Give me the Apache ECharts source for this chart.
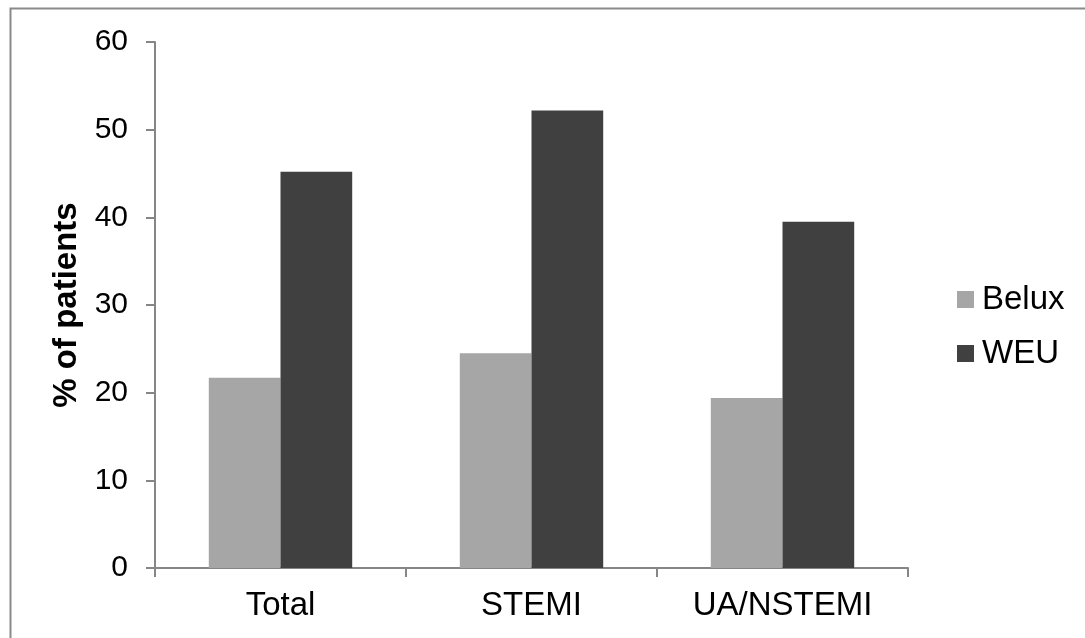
<!DOCTYPE html>
<html>
<head>
<meta charset="utf-8">
<script src="https://cdn.jsdelivr.net/npm/echarts@6/dist/echarts.min.js"></script>
<style>
  html, body { margin: 0; padding: 0; background: #fff; }
  #chart { width: 1085px; height: 638px; }
</style>
</head>
<body>
<div id="chart"></div>
<script>
// Share of patients by presentation, Belux vs Western Europe
const categories = ['Total', 'STEMI', 'UA/NSTEMI'];
const beluxValues = [21.7, 24.5, 19.4];
const weuValues = [45.2, 52.2, 39.5];
const yTicks = { min: 0, max: 60, interval: 10 };

const FONT = '"Liberation Sans", Arial, sans-serif';
const AXIS_GREY = '#868686';

const chart = echarts.init(document.getElementById('chart'), null, { renderer: 'canvas' });

chart.setOption({
  backgroundColor: '#ffffff',
  animation: false,
  textStyle: { fontFamily: FONT },
  graphic: [{
    type: 'rect',
    shape: { x: 10.5, y: 8.5, width: 1200, height: 800 },
    style: { fill: 'none', stroke: '#8a8a8a', lineWidth: 2 },
    silent: true
  }],
  grid: { left: 155, right: 177, top: 42, bottom: 70, containLabel: false },
  legend: {
    orient: 'vertical',
    left: 952,
    top: 278,
    itemWidth: 17,
    itemHeight: 17,
    itemGap: 21,
    icon: 'rect',
    textStyle: { fontFamily: FONT, fontSize: 33, color: '#000', lineHeight: 33, padding: [0, 0, 0, 3] },
    data: ['Belux', 'WEU']
  },
  xAxis: {
    type: 'category',
    data: categories,
    axisLine: { lineStyle: { color: AXIS_GREY, width: 2 } },
    axisTick: { show: true, length: 9, alignWithLabel: false, lineStyle: { color: AXIS_GREY, width: 2 } },
    axisLabel: { fontFamily: FONT, fontSize: 33, color: '#000', margin: 21 },
    splitLine: { show: false }
  },
  yAxis: {
    type: 'value',
    min: yTicks.min,
    max: yTicks.max,
    interval: yTicks.interval,
    name: '% of patients',
    nameLocation: 'middle',
    nameRotate: 90,
    nameGap: 65,
    nameTextStyle: { fontFamily: FONT, fontSize: 33, fontWeight: 'bold', color: '#000' },
    axisLine: { show: true, lineStyle: { color: AXIS_GREY, width: 2 } },
    axisTick: { show: true, length: 9, lineStyle: { color: AXIS_GREY, width: 2 } },
    axisLabel: { fontFamily: FONT, fontSize: 30, color: '#000', margin: 27 },
    splitLine: { show: false }
  },
  series: [
    {
      name: 'Belux',
      type: 'bar',
      data: beluxValues,
      barGap: '0%',
      barCategoryGap: '42.86%',
      itemStyle: { color: '#a6a6a6' }
    },
    {
      name: 'WEU',
      type: 'bar',
      data: weuValues,
      barGap: '0%',
      barCategoryGap: '42.86%',
      itemStyle: { color: '#404040' }
    }
  ]
});
</script>
</body>
</html>
